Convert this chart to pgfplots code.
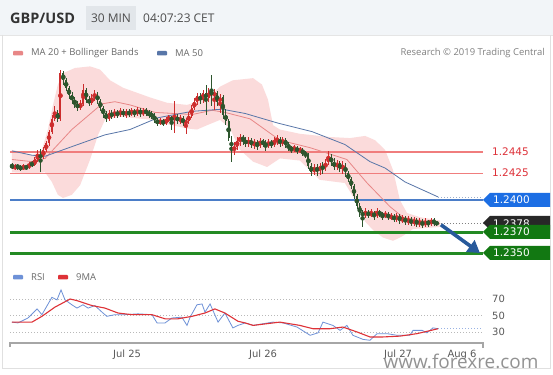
\documentclass[border=0pt]{standalone}
\usepackage{fontspec}
\setmainfont{Open Sans}
\newfontfamily\dv{DejaVu Sans}
\usepackage{pgfplots}
\pgfplotsset{compat=1.18}
\usepackage{pgfplotstable}
\usetikzlibrary{arrows.meta}

\definecolor{hdrbg}{RGB}{242,245,248}
\definecolor{hdrbox}{RGB}{226,230,234}
\definecolor{bandpink}{RGB}{251,219,219}
\definecolor{ma20}{RGB}{232,135,135}
\definecolor{ma50}{RGB}{88,118,168}
\definecolor{upc}{RGB}{205,45,45}
\definecolor{dnc}{RGB}{45,85,45}
\definecolor{labred}{RGB}{222,50,58}
\definecolor{levelred}{RGB}{240,125,125}
\definecolor{lblue}{RGB}{75,125,200}
\definecolor{boxblue}{RGB}{28,110,228}
\definecolor{boxgreen}{RGB}{18,120,18}
\definecolor{lgreen}{RGB}{35,138,35}
\definecolor{boxdark}{RGB}{40,40,40}
\definecolor{arrowblue}{RGB}{40,90,155}
\definecolor{rsiblue}{RGB}{110,145,215}
\definecolor{rsired}{RGB}{222,50,55}
\definecolor{txtgray}{RGB}{105,105,105}

\pgfplotstableread{
i o h l c
0 1.2433 1.2435 1.2429 1.2430
1 1.2430 1.2434 1.2428 1.2432
2 1.2432 1.2434 1.2428 1.2431
3 1.2431 1.2433 1.2427 1.2429
4 1.2429 1.2434 1.2428 1.2432
5 1.2432 1.2433 1.2428 1.2430
6 1.2430 1.2436 1.2429 1.2434
7 1.2434 1.2437 1.2431 1.2433
8 1.2433 1.2440 1.2432 1.2438
9 1.2438 1.2447 1.2436 1.2442
10 1.2442 1.2448 1.2426 1.2440
11 1.2440 1.2450 1.2438 1.2447
12 1.2447 1.2455 1.2445 1.2453
13 1.2453 1.2466 1.2451 1.2464
14 1.2464 1.2480 1.2462 1.2476
15 1.2476 1.2488 1.2474 1.2481
16 1.2481 1.2484 1.2473 1.2476
17 1.2476 1.2522 1.2474 1.2519
18 1.2519 1.2521 1.2508 1.2512
19 1.2512 1.2514 1.2502 1.2505
20 1.2505 1.2507 1.2495 1.2498
21 1.2498 1.2501 1.2490 1.2494
22 1.2494 1.2496 1.2486 1.2490
23 1.2490 1.2493 1.2483 1.2486
24 1.2486 1.2494 1.2484 1.2490
25 1.2490 1.2509 1.2488 1.2503
26 1.2503 1.2505 1.2491 1.2494
27 1.2494 1.2497 1.2488 1.2491
28 1.2491 1.2499 1.2489 1.2496
29 1.2496 1.2503 1.2493 1.2499
30 1.2499 1.2501 1.2490 1.2493
31 1.2493 1.2495 1.2483 1.2486
32 1.2486 1.2488 1.2477 1.2481
33 1.2481 1.2483 1.2473 1.2476
34 1.2476 1.2484 1.2474 1.2481
35 1.2481 1.2484 1.2476 1.2479
36 1.2479 1.2485 1.2477 1.2482
37 1.2482 1.2484 1.2477 1.2480
38 1.2480 1.2486 1.2478 1.2483
39 1.2483 1.2485 1.2478 1.2480
40 1.2480 1.2485 1.2477 1.2482
41 1.2482 1.2485 1.2478 1.2481
42 1.2481 1.2486 1.2479 1.2483
43 1.2483 1.2485 1.2478 1.2481
44 1.2481 1.2487 1.2479 1.2484
45 1.2484 1.2486 1.2478 1.2481
46 1.2481 1.2486 1.2479 1.2483
47 1.2483 1.2486 1.2479 1.2482
48 1.2482 1.2484 1.2477 1.2480
49 1.2480 1.2483 1.2476 1.2479
50 1.2479 1.2481 1.2472 1.2475
51 1.2475 1.2477 1.2469 1.2472
52 1.2472 1.2477 1.2470 1.2474
53 1.2474 1.2476 1.2469 1.2472
54 1.2472 1.2478 1.2470 1.2475
55 1.2475 1.2480 1.2473 1.2477
56 1.2477 1.2479 1.2466 1.2475
57 1.2475 1.2493 1.2463 1.2478
58 1.2478 1.2481 1.2471 1.2474
59 1.2474 1.2480 1.2471 1.2477
60 1.2477 1.2479 1.2469 1.2472
61 1.2472 1.2477 1.2462 1.2474
62 1.2474 1.2482 1.2471 1.2479
63 1.2479 1.2489 1.2477 1.2486
64 1.2486 1.2495 1.2484 1.2492
65 1.2492 1.2500 1.2489 1.2497
66 1.2497 1.2500 1.2490 1.2494
67 1.2494 1.2503 1.2491 1.2500
68 1.2500 1.2508 1.2480 1.2495
69 1.2495 1.2505 1.2492 1.2502
70 1.2502 1.2517 1.2488 1.2498
71 1.2498 1.2504 1.2484 1.2500
72 1.2500 1.2502 1.2488 1.2492
73 1.2492 1.2499 1.2481 1.2496
74 1.2496 1.2498 1.2476 1.2480
75 1.2480 1.2485 1.2470 1.2474
76 1.2474 1.2476 1.2455 1.2458
77 1.2458 1.2460 1.2436 1.2447
78 1.2447 1.2454 1.2442 1.2450
79 1.2450 1.2459 1.2447 1.2455
80 1.2455 1.2462 1.2451 1.2459
81 1.2459 1.2461 1.2452 1.2456
82 1.2456 1.2459 1.2450 1.2453
83 1.2453 1.2459 1.2450 1.2456
84 1.2456 1.2458 1.2449 1.2452
85 1.2452 1.2457 1.2448 1.2454
86 1.2454 1.2456 1.2447 1.2451
87 1.2451 1.2458 1.2449 1.2455
88 1.2455 1.2457 1.2450 1.2453
89 1.2453 1.2456 1.2446 1.2451
90 1.2451 1.2457 1.2449 1.2454
91 1.2454 1.2456 1.2449 1.2452
92 1.2452 1.2459 1.2450 1.2455
93 1.2455 1.2461 1.2452 1.2457
94 1.2457 1.2459 1.2450 1.2453
95 1.2453 1.2459 1.2451 1.2456
96 1.2456 1.2458 1.2449 1.2452
97 1.2452 1.2454 1.2446 1.2449
98 1.2449 1.2451 1.2444 1.2447
99 1.2447 1.2452 1.2445 1.2449
100 1.2449 1.2451 1.2443 1.2446
101 1.2446 1.2450 1.2444 1.2447
102 1.2447 1.2449 1.2441 1.2444
103 1.2444 1.2446 1.2439 1.2442
104 1.2442 1.2444 1.2429 1.2432
105 1.2432 1.2435 1.2423 1.2426
106 1.2426 1.2434 1.2424 1.2431
107 1.2431 1.2434 1.2423 1.2427
108 1.2427 1.2435 1.2424 1.2432
109 1.2432 1.2436 1.2425 1.2429
110 1.2429 1.2439 1.2427 1.2436
111 1.2436 1.2446 1.2433 1.2440
112 1.2440 1.2443 1.2432 1.2436
113 1.2436 1.2439 1.2428 1.2431
114 1.2431 1.2438 1.2428 1.2435
115 1.2435 1.2437 1.2426 1.2429
116 1.2429 1.2437 1.2425 1.2433
117 1.2433 1.2435 1.2422 1.2425
118 1.2425 1.2427 1.2417 1.2420
119 1.2420 1.2422 1.2410 1.2413
120 1.2413 1.2415 1.2401 1.2404
121 1.2404 1.2406 1.2392 1.2395
122 1.2395 1.2397 1.2384 1.2388
123 1.2388 1.2391 1.2375 1.2386
124 1.2386 1.2393 1.2383 1.2389
125 1.2389 1.2391 1.2383 1.2386
126 1.2386 1.2392 1.2384 1.2388
127 1.2388 1.2390 1.2382 1.2385
128 1.2385 1.2393 1.2383 1.2389
129 1.2389 1.2391 1.2384 1.2387
130 1.2387 1.2389 1.2381 1.2385
131 1.2385 1.2390 1.2383 1.2387
132 1.2387 1.2389 1.2381 1.2384
133 1.2384 1.2388 1.2381 1.2385
134 1.2385 1.2387 1.2380 1.2382
135 1.2382 1.2388 1.2380 1.2385
136 1.2385 1.2387 1.2378 1.2381
137 1.2381 1.2386 1.2379 1.2383
138 1.2383 1.2385 1.2377 1.2380
139 1.2380 1.2385 1.2377 1.2382
140 1.2382 1.2384 1.2376 1.2379
141 1.2379 1.2384 1.2376 1.2381
142 1.2381 1.2383 1.2375 1.2378
143 1.2378 1.2383 1.2375 1.2380
144 1.2380 1.2382 1.2374 1.2377
145 1.2377 1.2383 1.2375 1.2380
146 1.2380 1.2382 1.2375 1.2378
147 1.2378 1.2383 1.2376 1.2381
148 1.2381 1.2383 1.2376 1.2379
149 1.2379 1.2381 1.2376 1.2378
}\candles

\begin{document}
\begin{tikzpicture}
\fill[white] (0,0) rectangle (553bp,375bp);

% ---------- main price panel ----------
\begin{axis}[at={(10bp,113bp)}, anchor=south west, scale only axis,
  width=473bp, height=200bp, xmin=-0.7, xmax=165.26,
  ymin=1.23422, ymax=1.25291, hide axis, clip=false]
% Bollinger band
\addplot[fill=bandpink, draw=none] coordinates {
(0,1.2447) (7.4,1.2442) (10.5,1.2447) (12.6,1.2466) (14.4,1.2489) (16.1,1.2508)
(18.2,1.2519) (22.1,1.25235) (27.4,1.2525) (30.9,1.2522) (34.4,1.2512) (39,1.2505)
(48.4,1.2496) (54.4,1.2491) (61.4,1.2489) (68.4,1.2495) (73,1.2506) (77.5,1.2512)
(84.6,1.2514) (87.7,1.2508) (89.8,1.2494) (91.6,1.2470) (94,1.2466) (101,1.2462)
(111.6,1.2459) (118.6,1.2458) (123.9,1.2460) (127.4,1.2456) (130.9,1.2447)
(133.7,1.2428) (136.1,1.2400) (138.6,1.2388) (143.2,1.2384) (150.2,1.2381)
(150.2,1.2375) (140.7,1.2373) (136.8,1.2366) (133.7,1.2362) (130.2,1.2365)
(126.7,1.2372) (123.9,1.2380) (120.4,1.2400) (116.8,1.2416) (108,1.2419)
(101,1.2437) (94,1.2439) (89.5,1.2431) (84.6,1.2436) (80,1.2447) (76.5,1.2467)
(73,1.2475) (68.4,1.2470) (64.9,1.2466) (61.4,1.2467) (54.4,1.2471) (49.5,1.2475)
(37.9,1.2478) (32.6,1.2475) (30.2,1.2461) (27.4,1.2438) (23.9,1.2414) (21,1.2405)
(17.9,1.2402) (16.1,1.2405) (14,1.2417) (11.6,1.2426) (7.4,1.2425) (0,1.2426)
} -- cycle;
% horizontal levels
\addplot[draw=levelred, line width=1.3bp] coordinates {(-0.7,1.2445) (165.26,1.2445)};
\addplot[draw=levelred, line width=1.3bp] coordinates {(-0.7,1.2425) (165.26,1.2425)};
\addplot[draw=lblue, line width=1.3bp] coordinates {(-0.7,1.2400) (165.26,1.2400)};
\addplot[draw=lgreen, line width=2.6bp] coordinates {(-0.7,1.2370) (165.26,1.2370)};
\addplot[draw=lgreen, line width=2.6bp] coordinates {(-0.7,1.2350) (165.26,1.2350)};
% MA 20
\addplot[draw=ma20, line width=0.8bp] coordinates {
(0,1.2438) (7,1.2436) (11.6,1.2439) (21,1.2466) (31.6,1.2490) (36.1,1.2492)
(41.4,1.2489) (50.2,1.2482) (63.2,1.2480) (70.2,1.2484) (74.7,1.2482) (83.5,1.2476)
(94,1.2456) (104.6,1.2449) (117.5,1.2438) (124.6,1.2416) (132.6,1.2394)
(137.2,1.2384) (150.2,1.2378)};
% MA 50
\addplot[draw=ma50, line width=0.8bp] coordinates {
(0,1.2446) (7,1.2442) (11.6,1.2441) (21,1.2450) (32.6,1.2461) (41.4,1.2466)
(51.2,1.2477) (63.2,1.2483) (73.7,1.2485) (81.8,1.2481) (93.3,1.2472) (105.3,1.2464)
(116.8,1.2452) (125.6,1.2436) (130.9,1.2430) (137.9,1.2417) (149.5,1.2403)};
\addplot[draw=ma50!60, line width=0.7bp, dash pattern=on 1bp off 2bp] coordinates {(149.5,1.2403) (165.26,1.2403)};
\addplot[draw=gray, line width=0.7bp, dash pattern=on 1bp off 2bp] coordinates {(150.5,1.2378) (165.26,1.2378)};
% candles: wicks
\addplot[only marks, mark=none, color=upc,
  x filter/.expression={\thisrow{c}>\thisrow{o} ? x : nan},
  error bars/.cd, y dir=both, y explicit, error mark=none,
  error bar style={line width=0.6bp}]
  table[x=i, y expr={(\thisrow{h}+\thisrow{l})/2}, y error expr={(\thisrow{h}-\thisrow{l})/2}] {\candles};
\addplot[only marks, mark=none, color=dnc,
  x filter/.expression={\thisrow{c}>\thisrow{o} ? nan : x},
  error bars/.cd, y dir=both, y explicit, error mark=none,
  error bar style={line width=0.6bp}]
  table[x=i, y expr={(\thisrow{h}+\thisrow{l})/2}, y error expr={(\thisrow{h}-\thisrow{l})/2}] {\candles};
% candles: bodies
\addplot[only marks, mark=none, color=upc,
  x filter/.expression={\thisrow{c}>\thisrow{o} ? x : nan},
  error bars/.cd, y dir=both, y explicit, error mark=none,
  error bar style={line width=1.9bp, line cap=butt}]
  table[x=i, y expr={(\thisrow{o}+\thisrow{c})/2}, y error expr={abs(\thisrow{c}-\thisrow{o})/2}] {\candles};
\addplot[only marks, mark=none, color=dnc,
  x filter/.expression={\thisrow{c}>\thisrow{o} ? nan : x},
  error bars/.cd, y dir=both, y explicit, error mark=none,
  error bar style={line width=1.9bp, line cap=butt}]
  table[x=i, y expr={(\thisrow{o}+\thisrow{c})/2}, y error expr={abs(\thisrow{c}-\thisrow{o})/2}] {\candles};
% forecast arrow
\draw[arrowblue, line width=3.6bp, -{Triangle[length=12bp,width=14bp]}]
  (axis cs:150.5,1.2377) -- (axis cs:164.2,1.23506);
\end{axis}

% ---------- RSI panel ----------
\begin{axis}[at={(10bp,32bp)}, anchor=south west, scale only axis,
  width=473bp, height=58bp, xmin=-0.7, xmax=165.26,
  ymin=16.67, ymax=86.97, hide axis, clip=false]
\addplot[draw=gray!55, line width=0.8bp, dash pattern=on 1bp off 2bp] coordinates {(-0.7,70) (165.26,70)};
\addplot[draw=gray!55, line width=0.8bp, dash pattern=on 1bp off 2bp] coordinates {(-0.7,50) (165.26,50)};
\addplot[draw=gray!55, line width=0.8bp, dash pattern=on 1bp off 2bp] coordinates {(-0.7,30) (165.26,30)};
\addplot[draw=rsiblue!70, line width=0.8bp, dash pattern=on 1bp off 2bp] coordinates {(149.5,34) (165.26,34)};
\addplot[draw=rsiblue, line width=0.8bp] coordinates {
(0,42) (2.1,41) (5.6,47) (8.8,58) (10.5,51) (14,72) (15.8,69) (17.2,81) (18.6,69)
(21,63) (22.8,59) (24.9,63) (26.7,59) (29.1,62) (31.6,54) (33.3,49) (36.1,51)
(39.6,51) (44.2,52) (49.1,51) (50.9,41) (53.7,41) (56.1,47) (59.6,48) (61.4,38)
(62.5,48) (64.9,63) (66.7,64) (67.7,54) (69.5,64) (72.3,42) (74.7,53) (77.5,35)
(79.3,38) (81.8,41) (84.6,38) (91.6,42) (95.1,41) (100,36) (104.6,26) (107.4,29)
(109.1,42) (112.6,38) (115.1,32) (117.5,38) (119.6,26) (123.2,21) (125.6,20)
(128.1,28) (131.6,28) (135.1,26) (139.6,26) (140.7,32) (143.9,32) (145.6,29)
(147.7,35) (149.5,34)};
\addplot[draw=rsired, line width=1.1bp] coordinates {
(0,42) (7,42) (10.5,49) (15,60) (20.4,70) (22.8,68) (28.1,62) (32.6,59) (37.2,53)
(42.1,51) (49.1,51) (53.7,46) (58.2,46) (63.2,49) (67.7,53) (71.2,58) (74.7,53)
(79.3,43) (81.8,41) (84.6,38) (94,42) (101,38) (105.6,34) (111.6,34) (116.1,36)
(121.1,30) (125.6,24) (130.2,24) (136.1,25) (142.1,28) (149.5,34)};
\end{axis}

% ---------- decorations in pixel frame ----------
\begin{scope}[x=1bp, y=-1bp, shift={(0,375bp)}]
% header
\fill[hdrbg] (0,0) rectangle (553,35);
\draw[black!10, line width=0.6] (0,35) -- (553,35);
\draw[black!12, line width=0.8] (2,35) -- (2,368) -- (550,368) -- (550,35);
\node[anchor=west, inner sep=0, text=black!80, font=\bfseries\fontsize{14.5}{16}\selectfont] at (10,18) {GBP/USD};
\fill[hdrbox] (86,6) rectangle (136,30);
\node[inner sep=0, text=black!70, font=\fontsize{12}{14}\selectfont] at (111,18) {30 MIN};
\node[anchor=west, inner sep=0, text=black!70, font=\fontsize{12}{14}\selectfont] at (143,18) {04:07:23 CET};
% legend
\fill[ma20, rounded corners=0.8] (13,51) rectangle (23,55.5);
\node[anchor=west, inner sep=0, text=txtgray, font=\fontsize{9.5}{11}\selectfont] at (31,53) {MA 20 + Bollinger Bands};
\fill[ma50, rounded corners=0.8] (157,51) rectangle (167,55.5);
\node[anchor=west, inner sep=0, text=txtgray, font=\fontsize{9.5}{11}\selectfont] at (175,53) {MA 50};
\node[anchor=east, inner sep=0, text=black!50, font=\fontsize{9.5}{11}\selectfont] at (545,53) {Research © 2019 Trading Central};
% price labels
\node[anchor=west, inner sep=0, text=labred, font=\dv\fontsize{10.5}{12}\selectfont] at (492,152) {1.2445};
\node[anchor=west, inner sep=0, text=labred, font=\dv\fontsize{10.5}{12}\selectfont] at (492,173) {1.2425};
\fill[boxblue] (483,200) -- (490,193) -- (550,193) -- (550,207) -- (490,207) -- cycle;
\node[anchor=west, inner sep=0, text=white, font=\dv\fontsize{10.5}{12}\selectfont] at (493,200) {1.2400};
\fill[boxdark] (483,223) -- (490,216) -- (550,216) -- (550,230) -- (490,230) -- cycle;
\node[anchor=west, inner sep=0, text=white, font=\dv\fontsize{10.5}{12}\selectfont] at (493,223.5) {1.2378};
\fill[boxgreen] (483,232) -- (490,225) -- (550,225) -- (550,239) -- (490,239) -- cycle;
\node[anchor=west, inner sep=0, text=white, font=\dv\fontsize{10.5}{12}\selectfont] at (493,232) {1.2370};
\fill[boxgreen] (483,253) -- (490,246) -- (550,246) -- (550,260) -- (490,260) -- cycle;
\node[anchor=west, inner sep=0, text=white, font=\dv\fontsize{10.5}{12}\selectfont] at (493,253) {1.2350};
% RSI legend
\fill[rsiblue, rounded corners=0.8] (13,275) rectangle (23,279.5);
\node[anchor=west, inner sep=0, text=txtgray, font=\fontsize{9.5}{11}\selectfont] at (31,277) {RSI};
\fill[rsired, rounded corners=0.8] (58,275) rectangle (68,279.5);
\node[anchor=west, inner sep=0, text=txtgray, font=\fontsize{9.5}{11}\selectfont] at (76,277) {9MA};
% RSI scale labels
\node[anchor=west, inner sep=0, text=black!65, font=\dv\fontsize{10}{12}\selectfont] at (492,299) {70};
\node[anchor=west, inner sep=0, text=black!65, font=\dv\fontsize{10}{12}\selectfont] at (492,316) {50};
\node[anchor=west, inner sep=0, text=black!65, font=\dv\fontsize{10}{12}\selectfont] at (492,332) {30};
% time axis
\draw[black!35, line width=1.4] (10,347) -- (10,343) -- (483,343) -- (483,348);
\node[inner sep=0, text=black!65, font=\dv\fontsize{10}{12}\selectfont] at (127,355) {Jul 25};
\node[inner sep=0, text=black!65, font=\dv\fontsize{10}{12}\selectfont] at (263,355) {Jul 26};
\node[inner sep=0, text=black!65, font=\dv\fontsize{10}{12}\selectfont] at (398,355) {Jul 27};
\node[inner sep=0, text=black!65, font=\dv\fontsize{10}{12}\selectfont] at (462,355) {Aug 6};
% watermark
\node[inner sep=0, text=black!50, opacity=0.85, font=\fontsize{19}{22}\selectfont] at (461,361) {www.forexre.com};
\end{scope}
\pgfresetboundingbox
\useasboundingbox (0,0) rectangle (553bp,375bp);
\end{tikzpicture}
\end{document}
